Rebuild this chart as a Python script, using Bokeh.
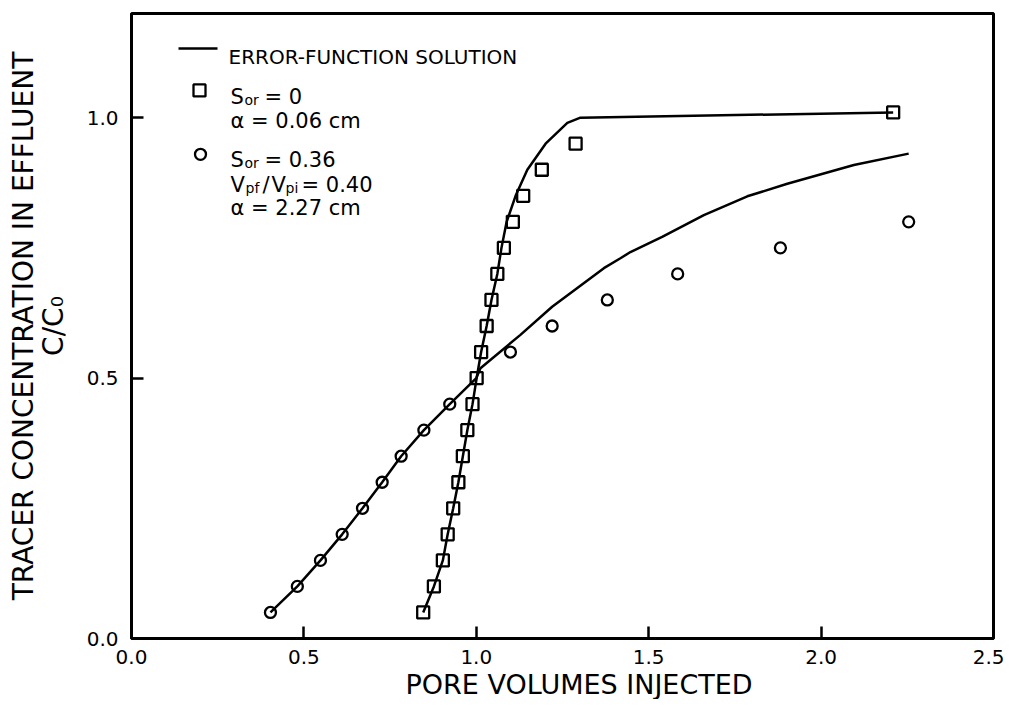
from bokeh.plotting import figure
from bokeh.models import FixedTicker, PrintfTickFormatter, Range1d, Title
from bokeh.core.properties import value
from bokeh.embed import file_html
from bokeh.resources import INLINE

# ---- data ----
x_ticks = [0.0, 0.5, 1.0, 1.5, 2.0, 2.5]
y_ticks = [0.0, 0.5, 1.0]

# error-function solution, S_or = 0
erf0_x = [0.846, 0.877, 0.903, 0.917, 0.933, 0.948, 0.961, 0.974, 0.989, 1.001,
          1.014, 1.030, 1.044, 1.061, 1.073, 1.088, 1.114, 1.148, 1.201, 1.264,
          1.302, 2.209]
erf0_y = [0.05, 0.10, 0.15, 0.20, 0.25, 0.30, 0.35, 0.40, 0.45, 0.50,
          0.55, 0.60, 0.65, 0.70, 0.75, 0.80, 0.85, 0.90, 0.95, 0.99,
          1.00, 1.01]

# error-function solution, S_or = 0.36
erf36_x = [0.403, 0.481, 0.548, 0.611, 0.670, 0.727, 0.782, 0.848, 0.923, 1.000,
           1.012, 1.128, 1.220, 1.370, 1.418, 1.447, 1.539, 1.660, 1.786, 1.902,
           2.095, 2.254]
erf36_y = [0.05, 0.10, 0.15, 0.20, 0.25, 0.30, 0.35, 0.40, 0.45, 0.50,
           0.519, 0.583, 0.637, 0.711, 0.730, 0.742, 0.771, 0.813, 0.849, 0.873,
           0.909, 0.931]

# measured, S_or = 0 (squares)
sq_x = [0.846, 0.877, 0.903, 0.917, 0.933, 0.948, 0.961, 0.974, 0.989, 1.001,
        1.014, 1.030, 1.044, 1.061, 1.080, 1.106, 1.136, 1.190, 1.288, 2.209]
sq_y = [0.05, 0.10, 0.15, 0.20, 0.25, 0.30, 0.35, 0.40, 0.45, 0.50,
        0.55, 0.60, 0.65, 0.70, 0.75, 0.80, 0.85, 0.90, 0.95, 1.01]

# measured, S_or = 0.36 (circles)
ci_x = [0.403, 0.481, 0.548, 0.611, 0.670, 0.727, 0.782, 0.848, 0.923,
        1.099, 1.220, 1.380, 1.584, 1.882, 2.254]
ci_y = [0.05, 0.10, 0.15, 0.20, 0.25, 0.30, 0.35, 0.40, 0.45,
        0.55, 0.60, 0.65, 0.70, 0.75, 0.80]

FONT = "DejaVu Sans"

p = figure(width=1004, height=699,
           x_range=Range1d(0, 2.5), y_range=Range1d(0, 1.2),
           output_backend="svg", toolbar_location=None,
           min_border_left=131, min_border_right=11,
           min_border_top=13, min_border_bottom=60)
p.grid.visible = False
p.outline_line_color = "black"
p.outline_line_width = 3
p.background_fill_color = "white"
p.border_fill_color = "white"

for ax in (p.xaxis[0], p.yaxis[0]):
    ax.axis_line_width = 3
    ax.axis_line_color = "black"
    ax.major_tick_in = 12
    ax.major_tick_out = 0
    ax.major_tick_line_width = 2.5
    ax.major_tick_line_color = "black"
    ax.minor_tick_line_color = None
    ax.major_label_text_font = FONT
    ax.major_label_text_font_size = "20px"
    ax.major_label_text_color = "black"
    ax.axis_label_text_font = FONT
    ax.axis_label_text_font_style = "normal"
    ax.axis_label_text_color = "black"
    ax.formatter = PrintfTickFormatter(format="%.1f")

p.xaxis.ticker = FixedTicker(ticks=x_ticks)
p.yaxis.ticker = FixedTicker(ticks=y_ticks)
p.xaxis.major_label_standoff = 11
p.yaxis.major_label_standoff = 13
p.yaxis.axis_label_standoff = 14
p.yaxis.axis_label = "TRACER CONCENTRATION IN EFFLUENT\nC/C\u2080"
p.yaxis.axis_label_text_font_size = "28px"
p.yaxis.axis_label_text_line_height = 0.9

# x-axis title, set slightly right of centre as in the reference
p.add_layout(Title(text="PORE VOLUMES INJECTED", align="left", offset=274,
                   text_font=FONT, text_font_size="27px",
                   text_font_style="normal", text_color="black",
                   standoff=0), "below")

# curves and points
p.line(erf0_x, erf0_y, line_color="black", line_width=2.5)
p.line(erf36_x, erf36_y, line_color="black", line_width=2.5)
p.scatter(sq_x, sq_y, marker="square", size=12, fill_color=None,
          line_color="black", line_width=2.3)
p.scatter(ci_x, ci_y, marker="circle", size=11, fill_color=None,
          line_color="black", line_width=2.3)

# ---- legend (hand-drawn in the original) ----
def X(px):
    return (px - 131) / 344.8

def Y(py):
    return (639 - py) / 521.7

p.line([X(178), X(217)], [Y(48), Y(48)], line_color="black", line_width=2.5)
p.scatter([X(199)], [Y(90)], marker="square", size=12, fill_color=None,
          line_color="black", line_width=2.3)
p.scatter([X(200)], [Y(154)], marker="circle", size=11, fill_color=None,
          line_color="black", line_width=2.3)

def txt(items, size):
    p.text(x=[X(a) for a, b, c in items], y=[Y(b) for a, b, c in items],
           text=[c for a, b, c in items], text_font=value(FONT),
           text_font_size=size, text_color="black",
           text_baseline="alphabetic", text_align="left")

txt([(228, 57, "ERROR-FUNCTION SOLUTION")], "20px")
txt([(230, 97, "S"), (264, 97, "= 0"),
     (230, 121, "\u03b1 = 0.06 cm"),
     (230, 160, "S"), (264, 160, "= 0.36"),
     (230, 185, "V"), (262, 185, "/"), (271, 185, "V"), (301, 185, "= 0.40"),
     (230, 208, "\u03b1 = 2.27 cm")], "21px")
txt([(244, 100, "or"), (244, 163, "or"), (245, 188, "pf"), (285, 188, "pi")], "14px")

open("out.html", "w").write(file_html(p, INLINE))
